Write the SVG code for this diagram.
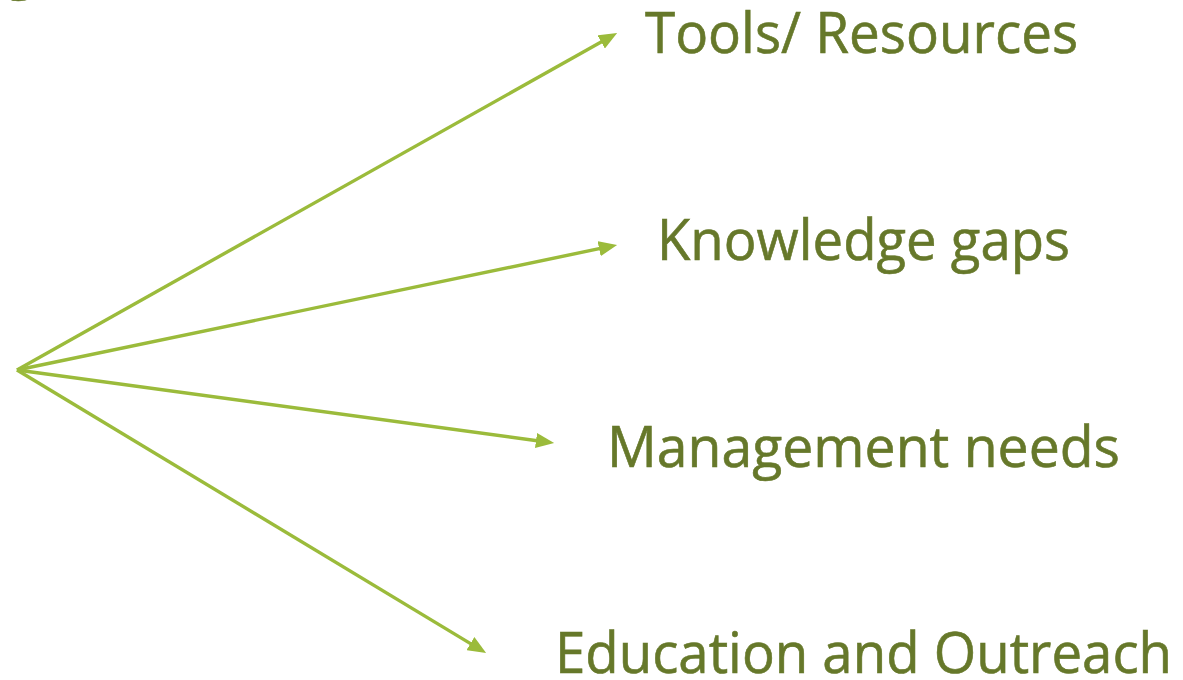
<svg xmlns="http://www.w3.org/2000/svg" width="1183" height="680" viewBox="0 0 1183 680">
  <style>
    .lbl { font-family: "Open Sans", "Liberation Sans", sans-serif; font-size: 56px; fill: #66782A; stroke: #66782A; stroke-width: 0.6; }
    .conn { stroke: #9BBB3B; stroke-width: 3.4; fill: none; marker-end: url(#arr); }
  </style>
  <defs>
    <marker id="arr" viewBox="0 0 6 5" refX="4" refY="2.5" markerWidth="5.4" markerHeight="4.5" orient="auto" markerUnits="strokeWidth">
      <path d="M0,0 L6,2.5 L0,5 z" fill="#9BBB3B"/>
    </marker>
  </defs>
  <rect width="1183" height="680" fill="#FFFFFF"/>
  <text class="lbl" x="5" y="-13">g</text>
  <g id="connectors">
    <line class="conn" x1="17" y1="370" x2="611.8" y2="35.9"/>
    <line class="conn" x1="17" y1="370" x2="611.1" y2="246.2"/>
    <line class="conn" x1="17" y1="370" x2="548.1" y2="442.2"/>
    <line class="conn" x1="17" y1="370" x2="480.9" y2="649.9"/>
  </g>
  <g id="node-tools">
    <text class="lbl" x="645" y="53" textLength="433" lengthAdjust="spacingAndGlyphs">Tools/ Resources</text>
  </g>
  <g id="node-knowledge">
    <text class="lbl" x="657" y="260" textLength="413" lengthAdjust="spacingAndGlyphs">Knowledge gaps</text>
  </g>
  <g id="node-management">
    <text class="lbl" x="607" y="467" textLength="513" lengthAdjust="spacingAndGlyphs">Management needs</text>
  </g>
  <g id="node-education">
    <text class="lbl" x="555" y="673" textLength="617" lengthAdjust="spacingAndGlyphs">Education and Outreach</text>
  </g>
</svg>
